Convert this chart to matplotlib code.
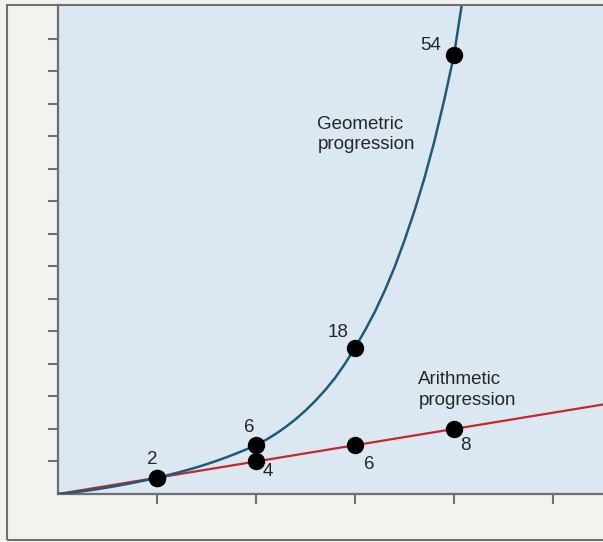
import matplotlib.pyplot as plt
from matplotlib.patches import Rectangle

# data
steps = [1, 2, 3, 4]
geometric = [2, 6, 18, 54]
arithmetic = [2, 4, 6, 8]

# geometric curve as drawn, sampled every 0.1 along x
geo_curve_x = [0.0, 0.1, 0.2, 0.3, 0.4, 0.5, 0.6, 0.7, 0.8, 0.9,
               1.0, 1.1, 1.2, 1.3, 1.4, 1.5, 1.6, 1.7, 1.8, 1.9,
               2.0, 2.1, 2.2, 2.3, 2.4, 2.5, 2.6, 2.7, 2.8, 2.9,
               3.0, 3.1, 3.2, 3.3, 3.4, 3.5, 3.6, 3.7, 3.8, 3.9,
               4.0, 4.08]
geo_curve_y = [0.0, 0.12, 0.26, 0.42, 0.60, 0.80, 1.01, 1.24, 1.48, 1.73,
               2.0, 2.29, 2.60, 2.93, 3.28, 3.66, 4.07, 4.51, 4.98, 5.48,
               6.0, 6.65, 7.4, 8.25, 9.2, 10.27, 11.47, 12.8, 14.3, 16.05,
               18.0, 20.1, 22.4, 25.0, 27.9, 31.2, 34.8, 38.8, 43.3, 48.4,
               54.0, 60.3]

# arithmetic line runs straight through the origin to the right edge
arith_line_x = [0, 5.5]
arith_line_y = [0, 11]

x_ticks = [1, 2, 3, 4, 5]
y_ticks = [4, 8, 12, 16, 20, 24, 28, 32, 36, 40, 44, 48, 52, 56]

# label offsets in pixels (dx, dy)
geo_offsets = [(-5, 18), (-7, 18), (-17, 15), (-23, 9)]
arith_offsets = [(-5, 18), (12, -10), (14, -19), (11, -17)]

BG = '#f4f2ee'
PANEL = '#dce8f1'
BLUE = '#1d5a7c'
RED = '#c8262e'
GREY = '#6f6f6f'
INK = '#262626'

plt.rcParams['font.family'] = ['Liberation Sans', 'DejaVu Sans']

fig = plt.figure(figsize=(6.03, 5.42), dpi=100)
fig.patch.set_facecolor(BG)
W, H = 603, 542
ax = fig.add_axes([58 / W, (H - 494) / H, 545 / W, 489 / H])
ax.set_facecolor(PANEL)

ax.plot(arith_line_x, arith_line_y, color=RED, lw=1.6, zorder=2)
ax.plot(geo_curve_x, geo_curve_y, color=BLUE, lw=1.8, zorder=3,
        solid_joinstyle='round')

ax.plot(steps, geometric, 'o', color='black', ms=11.5, zorder=4)
ax.plot(steps, arithmetic, 'o', color='black', ms=11.5, zorder=4)

for i, (x, y) in enumerate(zip(steps, geometric)):
    if i == 0:
        continue  # shared point with arithmetic, labelled once
    ax.annotate(str(y), (x, y), xytext=geo_offsets[i], textcoords='offset pixels',
                ha='center', va='center', fontsize=13.5, color=INK)
for i, (x, y) in enumerate(zip(steps, arithmetic)):
    ax.annotate(str(y), (x, y), xytext=arith_offsets[i], textcoords='offset pixels',
                ha='center', va='center', fontsize=13.5, color=INK)

ax.text(2.62, 44.2, 'Geometric\nprogression', ha='left', va='center',
        fontsize=13.5, color=INK, linespacing=1.25)
ax.text(3.64, 12.8, 'Arithmetic\nprogression', ha='left', va='center',
        fontsize=13.5, color=INK, linespacing=1.25)

ax.set_xlim(0, 5.505)
ax.set_ylim(0, 60.15)
ax.set_xticks(x_ticks)
ax.set_yticks(y_ticks)
ax.set_xticklabels([])
ax.set_yticklabels([])
ax.tick_params(direction='out', length=7, width=1.5, color=GREY)

for side in ['top', 'right']:
    ax.spines[side].set_visible(False)
for side in ['left', 'bottom']:
    ax.spines[side].set_color(GREY)
    ax.spines[side].set_linewidth(1.6)

# outer frame of the figure
fig.patches.append(Rectangle((7 / W, 2 / H), 1.0, (H - 7) / H, transform=fig.transFigure,
                             fill=False, edgecolor=GREY, lw=1.5, zorder=10))

fig.savefig('out.png', dpi=100, facecolor=BG)
